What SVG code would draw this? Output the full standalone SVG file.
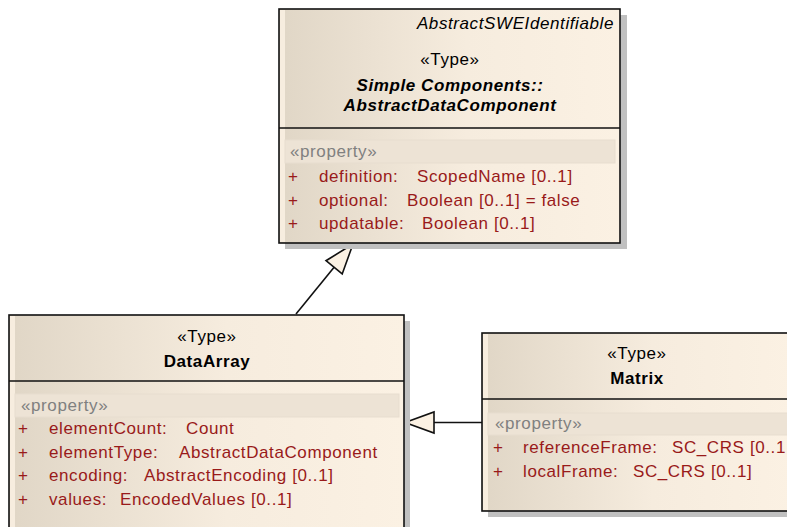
<svg xmlns="http://www.w3.org/2000/svg" width="787" height="527" viewBox="0 0 787 527">
<defs>
<linearGradient id="fillg" x1="0" y1="0" x2="1" y2="0">
<stop offset="0" stop-color="#e0d6c6"/>
<stop offset="0.55" stop-color="#f6ecde"/>
<stop offset="1" stop-color="#fbf1e3"/>
</linearGradient>
</defs>
<style>
.box{fill:url(#fillg);stroke:#111;stroke-width:1.6}
.strip{fill:#f7eddf}
.shadow{fill:#c0c0c0}
.div{stroke:#111;stroke-width:1.6}
.band{fill:#ede3d5;stroke:#e7ddcf;stroke-width:1}
text{font-family:"Liberation Sans",Arial,sans-serif;font-size:17px;letter-spacing:0.6px}
.hd{fill:#000}
.c{text-anchor:middle}
.b{font-weight:bold}
.i{font-style:italic}
.st{fill:#808080}
.p{fill:#991a1a}
.ln{stroke:#111;stroke-width:1.6;fill:none}
.ah{fill:#fbf1e3;stroke:#111;stroke-width:1.6;stroke-linejoin:miter}
</style>
<g id="connectors">
<line class="ln" x1="296" y1="314" x2="334.1" y2="267.3"/>
<polygon class="ah" points="353,244 342.2,273.9 326,260.7"/>
<line class="ln" x1="482" y1="422.5" x2="434" y2="422.5"/>
<polygon class="ah" points="405,422.5 434,412 434,433"/>
</g>
<g id="AbstractDataComponent">
<rect class="shadow" x="285" y="15" width="342" height="234"/>
<rect class="box" x="279" y="9" width="341" height="234"/>
<rect class="strip" x="280" y="10" width="5" height="232"/>
<line class="div" x1="279" y1="128" x2="620" y2="128"/>
<text class="hd i" x="614" y="29" text-anchor="end">AbstractSWEIdentifiable</text>
<text class="hd c" x="450" y="65">«Type»</text>
<text class="hd c b i" x="450" y="91">Simple Components::</text>
<text class="hd c b i" x="450" y="111">AbstractDataComponent</text>
<rect class="band" x="285" y="140" width="330" height="23"/>
<text class="st" x="290" y="157">«property»</text>
<text class="p" y="182"><tspan x="288">+</tspan><tspan x="319">definition:</tspan><tspan x="417">ScopedName [0..1]</tspan></text>
<text class="p" y="206"><tspan x="288">+</tspan><tspan x="319">optional:</tspan><tspan x="407">Boolean [0..1] = false</tspan></text>
<text class="p" y="229"><tspan x="288">+</tspan><tspan x="319">updatable:</tspan><tspan x="422">Boolean [0..1]</tspan></text>
</g>
<g id="DataArray">
<rect class="shadow" x="15" y="321" width="395" height="220"/>
<rect class="box" x="9" y="315" width="395" height="220"/>
<rect class="strip" x="10" y="316" width="5" height="218"/>
<line class="div" x1="9" y1="381" x2="404" y2="381"/>
<text class="hd c" x="207" y="342">«Type»</text>
<text class="hd c b" x="207" y="367">DataArray</text>
<rect class="band" x="15" y="394" width="384" height="23"/>
<text class="st" x="21" y="411">«property»</text>
<text class="p" y="434"><tspan x="18">+</tspan><tspan x="49">elementCount:</tspan><tspan x="186">Count</tspan></text>
<text class="p" y="458"><tspan x="18">+</tspan><tspan x="49">elementType:</tspan><tspan x="179">AbstractDataComponent</tspan></text>
<text class="p" y="481"><tspan x="18">+</tspan><tspan x="49">encoding:</tspan><tspan x="144">AbstractEncoding [0..1]</tspan></text>
<text class="p" y="505"><tspan x="18">+</tspan><tspan x="49">values:</tspan><tspan x="120">EncodedValues [0..1]</tspan></text>
</g>
<g id="Matrix">
<rect class="shadow" x="488" y="339" width="310" height="178"/>
<rect class="box" x="482" y="333" width="310" height="178"/>
<rect class="strip" x="483" y="334" width="5" height="176"/>
<line class="div" x1="482" y1="399" x2="792" y2="399"/>
<text class="hd c" x="637" y="359">«Type»</text>
<text class="hd c b" x="637" y="384">Matrix</text>
<rect class="band" x="488" y="413" width="304" height="22"/>
<text class="st" x="495" y="429">«property»</text>
<text class="p" y="453"><tspan x="493">+</tspan><tspan x="523">referenceFrame:</tspan><tspan x="672">SC_CRS [0..1</tspan></text>
<text class="p" y="477"><tspan x="493">+</tspan><tspan x="523">localFrame:</tspan><tspan x="633">SC_CRS [0..1]</tspan></text>
</g>
</svg>
